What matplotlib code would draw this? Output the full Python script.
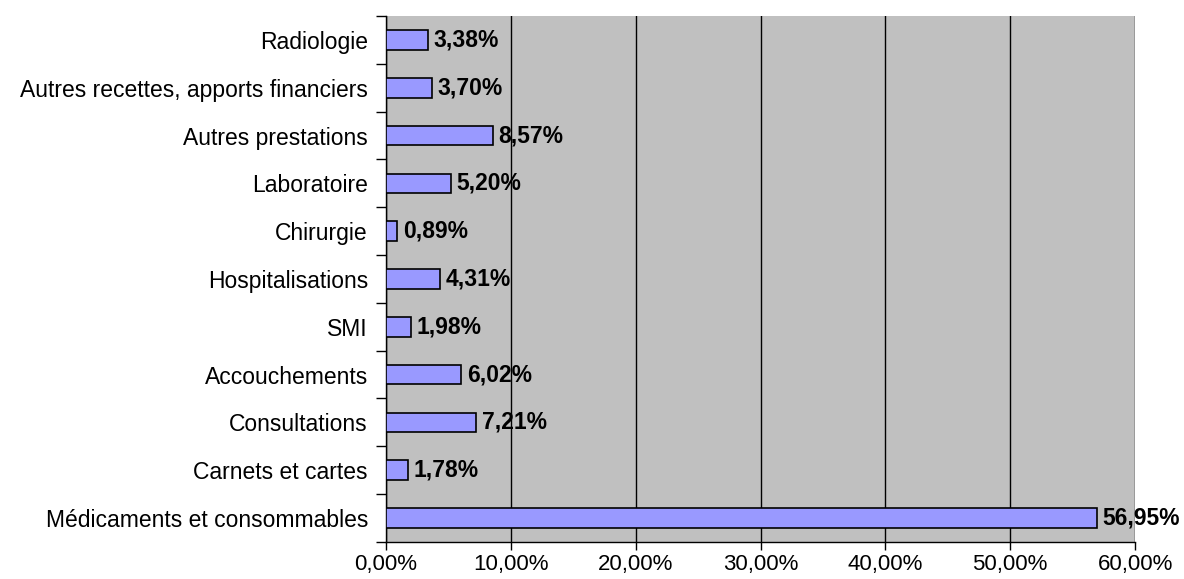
import matplotlib.pyplot as plt
import numpy as np

# categories listed bottom to top
categories = ['Médicaments et consommables', 'Carnets et cartes', 'Consultations',
              'Accouchements', 'SMI', 'Hospitalisations', 'Chirurgie',
              'Laboratoire', 'Autres prestations',
              'Autres recettes, apports financiers', 'Radiologie']
values = [56.95, 1.78, 7.21, 6.02, 1.98, 4.31, 0.89, 5.20, 8.57, 3.70, 3.38]
xticks = [0, 10, 20, 30, 40, 50, 60]

plt.rcParams['font.family'] = ['Liberation Sans', 'DejaVu Sans']

fig = plt.figure(figsize=(11.84, 5.79), dpi=100)
ax = fig.add_axes([0.326, 0.064, 0.6327, 0.9084])
ax.set_facecolor('#C0C0C0')

y = np.arange(len(categories))
ax.barh(y, values, height=0.41, color='#9999FF', edgecolor='black', linewidth=1.2, zorder=3)

for yi, v in zip(y, values):
    ax.text(v + 0.45, yi, ('%.2f%%' % v).replace('.', ','), va='center', ha='left',
            fontsize=16.5, fontweight='bold', zorder=4)

ax.set_xlim(0, 60)
ax.set_ylim(-0.5, len(categories) - 0.5)
ax.set_xticks(xticks)
ax.set_xticklabels([('%.2f%%' % t).replace('.', ',') for t in xticks], fontsize=16)
ax.tick_params(axis='x', length=6, width=1, pad=3)

# category labels centred on bars, ticks on the boundaries
ax.set_yticks(np.arange(-0.5, len(categories)), minor=False)
ax.set_yticklabels([])
ax.set_yticks(y, minor=True)
ax.set_yticklabels(categories, minor=True, fontsize=16.5)
ax.tick_params(axis='y', which='major', length=7, width=1)
ax.tick_params(axis='y', which='minor', length=0, pad=13)

ax.xaxis.grid(True, color='black', linewidth=1, zorder=1)
ax.set_axisbelow(True)
ax.spines['top'].set_visible(False)
ax.spines['right'].set_visible(False)
ax.spines['left'].set_linewidth(1)
ax.spines['bottom'].set_linewidth(1)

fig.savefig('out.png', dpi=100)
